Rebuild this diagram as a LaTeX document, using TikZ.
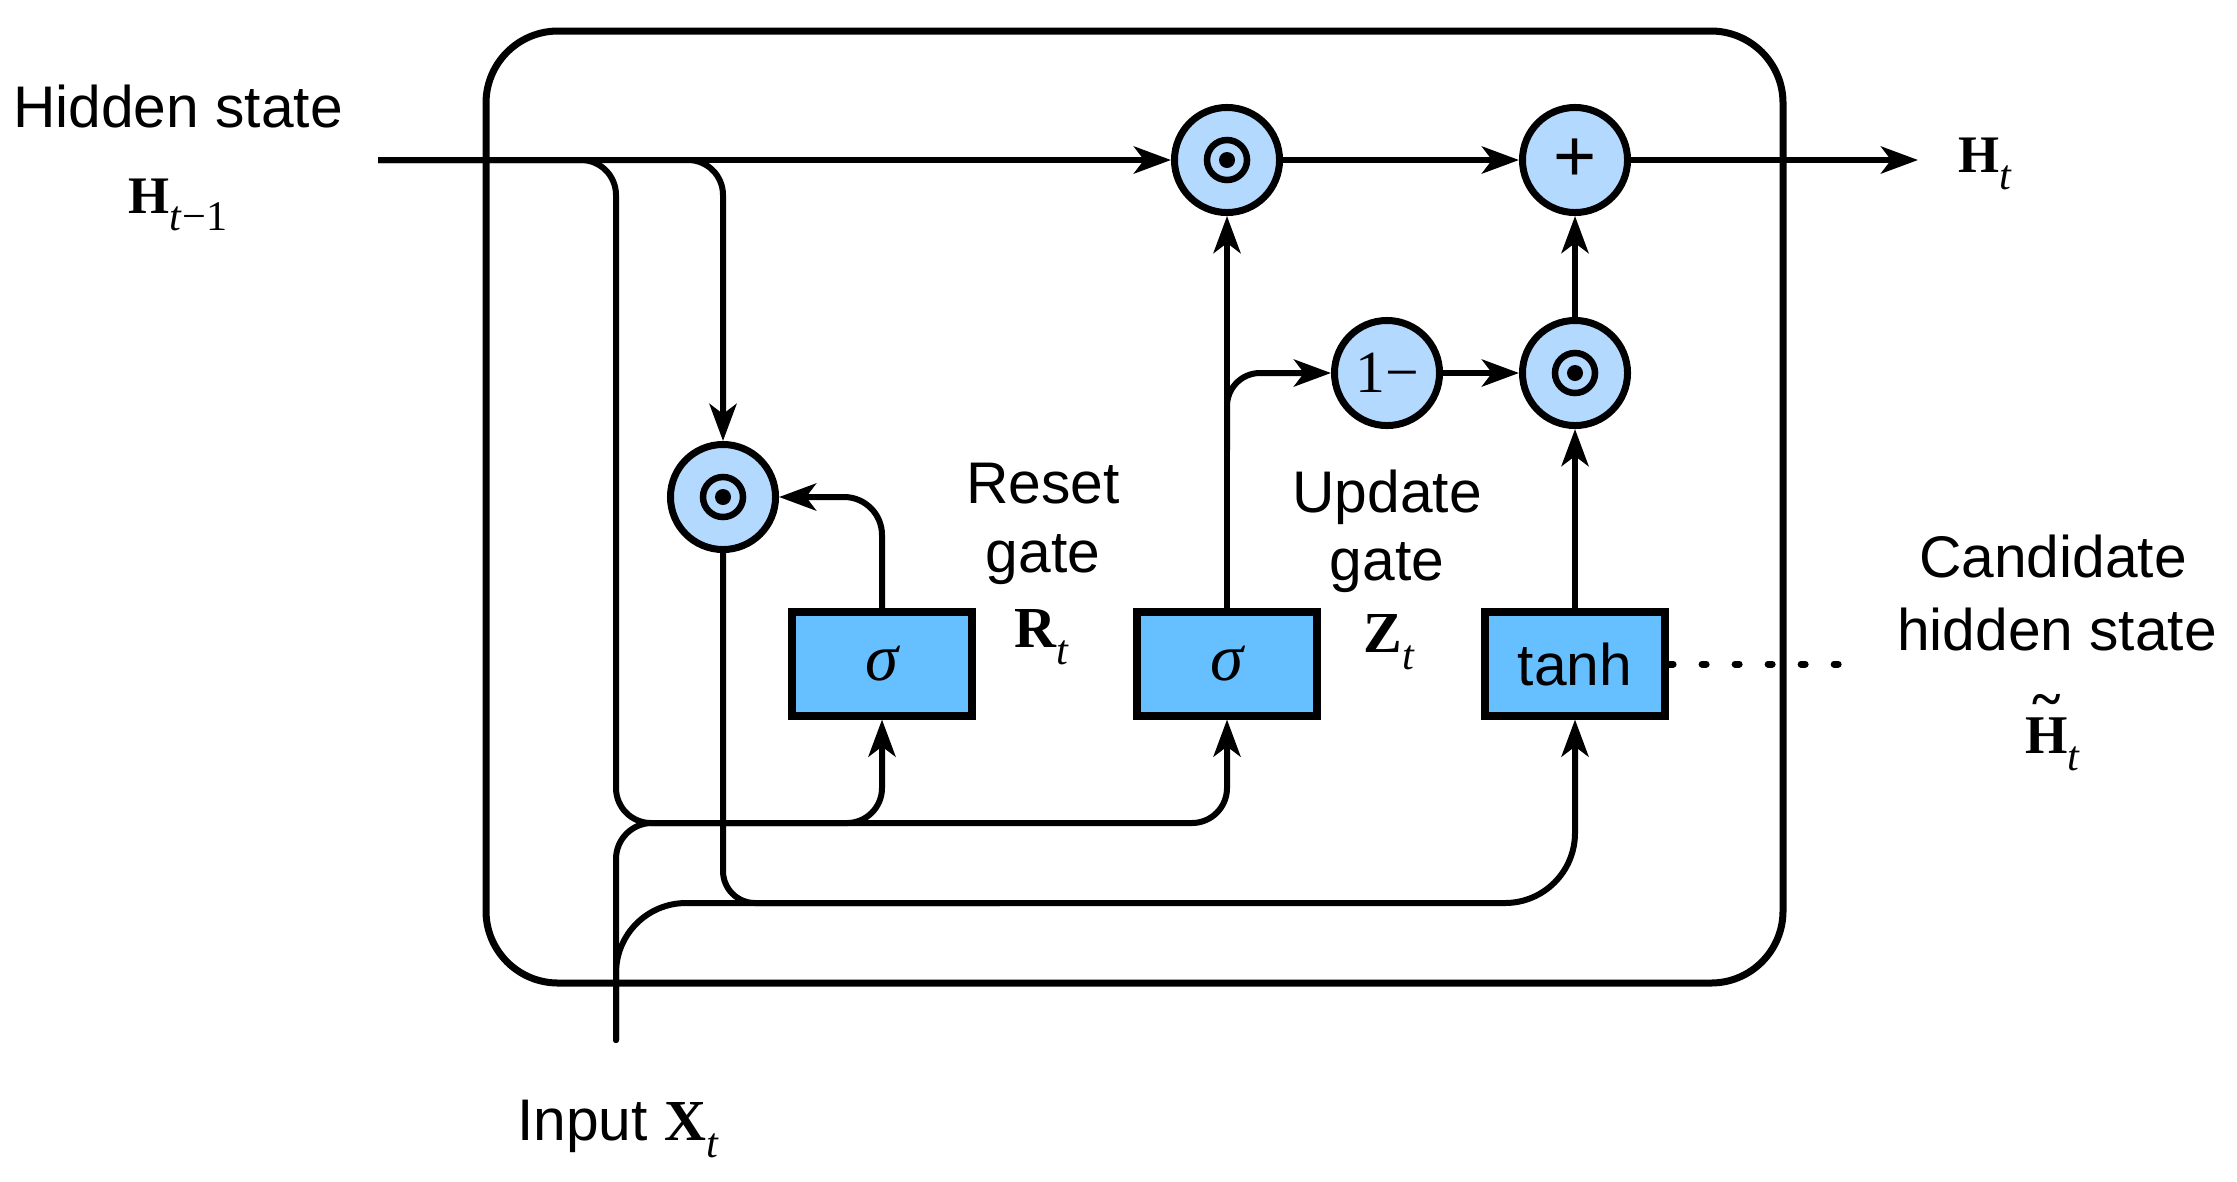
\documentclass[tikz,border=0pt]{standalone}
\usepackage{fontspec}
\setmainfont{Liberation Sans}
\newfontfamily\serif{Liberation Serif}
\usetikzlibrary{arrows.meta}
\definecolor{opblue}{RGB}{179,217,255}
\definecolor{boxblue}{RGB}{102,191,255}
% bold letter with an italic subscript
\newcommand{\bsym}[3][16.5]{{\serif\fontsize{#1}{#1}\selectfont\bfseries #2}\raisebox{-0.17cm}{\serif\fontsize{12}{12}\selectfont #3}}
\newcommand{\tildeH}{{\serif\fontsize{15.5}{15.5}\selectfont\bfseries\ooalign{H\cr\hidewidth\raisebox{0.66em}{\char"7E}\hidewidth\cr}}\raisebox{-0.17cm}{\serif\fontsize{12}{12}\selectfont\textit{t}}}
\begin{document}
\begin{tikzpicture}[x=0.01cm,y=-0.01cm,line width=0.06cm,
  arr/.style={-{Stealth[length=0.37cm,width=0.27cm,inset=0.1cm]}},
  opnode/.style={circle,draw,fill=opblue,line width=0.07cm,minimum size=1.05cm,inner sep=0pt},
  odot/.style={path picture={
    \draw[black,line width=0.065cm] (path picture bounding box.center) circle (0.2cm);
    \fill[black] (path picture bounding box.center) circle (0.08cm);}},
  gatebox/.style={rectangle,draw,fill=boxblue,line width=0.08cm,minimum width=1.8cm,minimum height=1.03cm,inner sep=0pt,font=\fontsize{16.7}{20}\selectfont},
  lbl/.style={anchor=base,inner sep=0pt,font=\fontsize{16.7}{20}\selectfont}]
\useasboundingbox (0,0) rectangle (2237,1181);
% the cell
\draw[line width=0.07cm,rounded corners=0.72cm] (486,31) rectangle (1783,983);
% operations
\node[opnode,odot] (mulH) at (1227,160) {};
\node[opnode] (plus) at (1575,160) {\fontsize{21}{21}\selectfont +};
\node[opnode] (oneminus) at (1387,373) {{\serif\fontsize{17}{17}\selectfont 1−}};
\node[opnode,odot] (mulZ) at (1575,373) {};
\node[opnode,odot] (mulR) at (723,497) {};
% gates
\node[gatebox] (sigR) at (882,664) {{\serif\fontsize{19}{19}\selectfont\itshape σ}};
\node[gatebox] (sigZ) at (1227,664) {{\serif\fontsize{19}{19}\selectfont\itshape σ}};
\node[gatebox] (tanhbox) at (1575,664) {tanh};
% ends and branch points
\coordinate (hin) at (378,160);
\coordinate (hout) at (1918,160);
\coordinate (xin) at (616,1040);
\coordinate (jx) at (616,823);
\coordinate (jr) at (800,823);
\coordinate (jz) at (1227,450);
\coordinate (jm) at (1000,903);
\coordinate (jt) at (1575,903);
\coordinate (dotend) at (1842,664);
% hidden state path
\draw[arr] (hin) -- (mulH.west);
\draw[arr] (mulH.east) -- (plus.west);
\draw[arr] (plus.east) -- (hout);
\draw[arr,rounded corners=0.35cm] (hin) -| (mulR.north);
\draw[arr,rounded corners=0.35cm] (hin) -| (jx) -| (sigZ.south);
% input
\draw[arr,rounded corners=0.35cm] (jr) -| (sigR.south);
\draw[line cap=round,rounded corners=0.36cm] (xin) |- (jr);
\draw[arr,line cap=round,rounded corners=0.7cm] (xin) |- (jt) -- (tanhbox.south);
\draw[rounded corners=0.32cm] (mulR.south) |- (jm);
% gates to operations
\draw[arr,rounded corners=0.38cm] (sigR.north) |- (mulR.east);
\draw[arr] (sigZ.north) -- (mulH.south);
\draw[arr,rounded corners=0.33cm] (jz) |- (oneminus.west);
\draw[arr] (oneminus.east) -- (mulZ.west);
\draw[arr] (tanhbox.north) -- (mulZ.south);
\draw[arr] (mulZ.north) -- (plus.south);
\draw[line width=0.07cm,line cap=round,dash pattern=on 0.04cm off 0.29cm] (tanhbox.east) -- (dotend);
% labels
\node[lbl] (hidden) at (178,127) {Hidden state};
\node[lbl] (hprev) at (178,213) {\bsym[15]{H}{\textit{t}−1}};
\node[lbl,anchor=base west] (hnext) at (1955,172) {\bsym[15]{H}{\textit{t}}};
\node[lbl] (reset) at (1043,503) {Reset};
\node[lbl] (resetgate) at (1043,572) {gate};
\node[lbl] (rt) at (1042,647) {\bsym{R}{\textit{t}}};
\node[lbl] (update) at (1387,512) {Update};
\node[lbl] (updategate) at (1387,580) {gate};
\node[lbl] (zt) at (1389,652) {\bsym{Z}{\textit{t}}};
\node[lbl] (cand) at (2053,577) {Candidate};
\node[lbl] (candhidden) at (2057,650) {hidden state};
\node[lbl] (htilde) at (2053,753) {\tildeH};
\node[lbl] (input) at (618,1140) {Input \bsym{X}{\textit{t}}};
\end{tikzpicture}
\end{document}
